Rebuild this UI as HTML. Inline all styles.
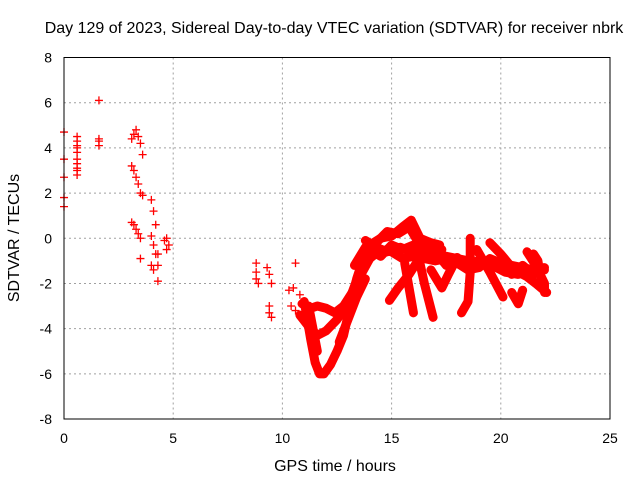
<!DOCTYPE html>
<html><head><meta charset="utf-8"><style>
body{margin:0;background:#fff}
svg text{font-family:"Liberation Sans",sans-serif;font-size:14px;fill:#000}
svg text.big{font-size:16px}
</style></head><body>
<svg id="chart" width="640" height="480" xmlns="http://www.w3.org/2000/svg">
<rect width="640" height="480" fill="#fff"/>
<g id="grid"></g>
<g id="ticks"></g>
<g id="series"></g>
<rect x="64" y="57.5" width="546" height="361.5" fill="none" stroke="#000" stroke-width="1"/>
<text class="big" x="334" y="33" text-anchor="middle">Day 129 of 2023, Sidereal Day-to-day VTEC variation (SDTVAR) for receiver nbrk</text>
<text class="big" x="335" y="471" text-anchor="middle">GPS time / hours</text>
<text class="big" transform="translate(19,238) rotate(-90)" text-anchor="middle">SDTVAR / TECUs</text>
</svg>
<script>
const xTicks=[0,5,10,15,20,25];
const yTicks=[-8,-6,-4,-2,0,2,4,6,8];
const scatX=[0,0,0,0,0,0.6,0.6,0.6,0.6,0.6,0.6,0.6,0.6,0.6,0.6,1.6,1.6,1.6,1.6,3.1,3.2,3.3,3.4,3.5,3.6,3.1,3.2,3.3,3.4,3.5,3.6,3.1,3.2,3.3,3.4,3.5,3.5,4.0,4.1,4.2,4.0,4.1,4.2,4.0,4.1,4.3,4.3,4.3,4.6,4.7,4.8,4.7,8.8,8.8,8.9,8.8,9.3,9.4,9.5,9.4,9.5,9.4,10.3,10.5,10.6,10.4,10.6,10.8];
const scatY=[4.7,3.5,2.7,1.8,1.4,4.5,4.3,4.1,4.0,3.8,3.5,3.3,3.1,3.0,2.8,6.1,4.4,4.3,4.1,4.4,4.6,4.8,4.5,4.2,3.7,3.2,3.0,2.7,2.4,2.0,1.9,0.7,0.6,0.4,0.2,0.0,-0.9,1.7,1.2,0.6,0.1,-0.3,-0.7,-1.2,-1.4,-1.2,-1.9,-0.7,-0.1,0.0,-0.3,-0.5,-1.1,-1.5,-2.0,-1.8,-1.3,-1.6,-2.0,-3.0,-3.5,-3.3,-2.3,-2.2,-1.1,-3.0,-3.2,-2.5];
const tracksX=[
 [11.0,11.3,11.5,11.7,11.9,12.2,12.5,12.8,13.1,13.4,13.7,14.0,14.5,15.0,15.5,15.9,16.3,16.8,17.2],
 [10.9,11.3,11.6,12.0,12.4,12.8,13.2,13.6,14.0,14.5,15.0,15.5,16.0,16.5,17.0,17.5,18.0,18.5,19.0,19.5,20.0,20.5,21.0,21.5,22.0],
 [10.8,11.2,11.6,12.0,12.5,13.0,13.5,14.0],
 [11.2,11.4,11.6],
 [14.9,15.3,15.8,16.2,16.5],
 [15.6,15.8,16.0],
 [16.2,16.5,16.9],
 [16.8,17.3,17.6,18.0],
 [18.6,18.6,18.5,18.2],
 [19.5,20.0,20.6,21.2,21.6,22.1],
 [18.9,19.5,20.1],
 [21.2,21.6,22.0,22.0],
 [13.8,14.3,14.8,15.4,15.9,16.4,17.0,17.5,18.0,18.5,19.0,19.6,20.2,20.8,21.4,22.0],
 [13.3,13.8,14.3,14.8,15.3,15.8,16.3,16.8,17.3],
 [14.0,14.5,15.0,15.5,16.0,16.5,17.0,17.5,18.0,18.5,19.0,19.5,20.0,20.5,21.0,21.5],
 [12.6,13.0,13.4,13.8],
 [20.5,20.8,21.0],
 [21.5,21.7,21.9]
];
const tracksY=[
 [-2.8,-4.5,-5.5,-6.0,-6.0,-5.6,-5.0,-4.3,-3.0,-1.8,-0.9,-0.3,0.0,0.1,0.5,0.8,0.0,-0.2,-0.3],
 [-2.9,-3.1,-3.0,-3.1,-3.3,-3.0,-2.4,-1.6,-0.9,-0.5,-0.6,-0.9,-0.8,-0.9,-1.0,-0.9,-1.0,-1.1,-1.0,-1.2,-1.3,-1.2,-1.3,-1.4,-1.4],
 [-3.4,-3.9,-4.3,-4.1,-3.6,-2.9,-1.6,-0.8],
 [-3.0,-4.0,-5.0],
 [-2.75,-2.2,-1.6,-1.0,-0.67],
 [-1.1,-2.2,-3.3],
 [-0.67,-2.0,-3.5],
 [-1.4,-2.2,-1.6,-0.85],
 [0.0,-1.5,-2.8,-3.3],
 [-0.2,-0.7,-1.4,-1.7,-2.0,-2.4],
 [-0.5,-1.5,-2.6],
 [-0.6,-1.2,-2.0,-2.4],
 [-0.1,-0.4,-0.6,-0.4,-0.6,-0.5,-0.7,-0.8,-0.9,-1.0,-1.1,-1.2,-1.5,-1.6,-1.4,-1.3],
 [-1.2,-0.4,-0.2,0.3,0.2,0.5,-0.3,-0.6,-0.5],
 [-0.5,-0.8,-0.3,-0.5,-0.3,-0.9,-0.6,-1.2,-1.1,-1.4,-1.3,-0.9,-1.1,-1.6,-1.2,-1.6],
 [-4.6,-3.6,-2.6,-1.8],
 [-2.4,-2.9,-2.3],
 [-0.7,-1.0,-2.2]
];
const NS='http://www.w3.org/2000/svg';
const X0=64,X1=610,Y0=419,Y1=57.5;
const xs=v=>X0+(v-0)/25*(X1-X0);
const ys=v=>Y0-(v+8)/16*(Y0-Y1);
const grid=document.getElementById('grid'),tk=document.getElementById('ticks'),ser=document.getElementById('series');
function mk(tag,attrs,parent){const e=document.createElementNS(NS,tag);for(const k in attrs)e.setAttribute(k,attrs[k]);parent.appendChild(e);return e;}
xTicks.forEach(t=>{const x=xs(t);
 if(t>0&&t<25){const l=mk('line',{x1:x,x2:x,y1:Y1,y2:Y0,stroke:'#a0a0a0','stroke-dasharray':'2,3'},grid);
 
 }
 const tx=mk('text',{x:x,y:443,'text-anchor':'middle'},tk);tx.textContent=t;
 
 });
yTicks.forEach(t=>{const y=ys(t);
 if(t>-8&&t<8){const l=mk('line',{x1:X0,x2:X1,y1:y,y2:y,stroke:'#a0a0a0','stroke-dasharray':'2,3'},grid);
 
 }
 const tx=mk('text',{x:52,y:y+5,'text-anchor':'end'},tk);tx.textContent=t;
 
 });
function plus(x,y){const p=mk('path',{d:`M${xs(x)-4},${ys(y)}h8M${xs(x)},${ys(y)-4}v8`,stroke:'#f00','stroke-width':1.3},ser);
 
 }
tracksX.forEach((tx,i)=>{const ty=tracksY[i];
 const pl=mk('polyline',{points:tx.map((x,j)=>xs(x)+','+ys(ty[j])).join(' '),fill:'none',stroke:'#f00','stroke-width':9,'stroke-linejoin':'round','stroke-linecap':'round'},ser);
 
 
 tx.forEach((x,j)=>plus(x,ty[j]));});
scatX.forEach((x,i)=>plus(x,scatY[i]));
</script>
</body></html>
